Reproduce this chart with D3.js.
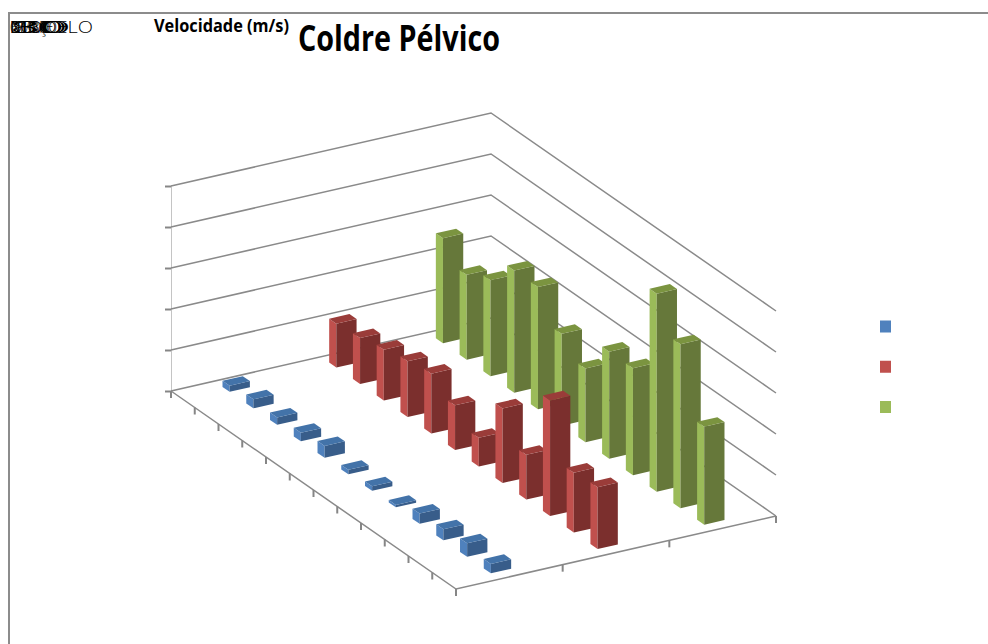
<!DOCTYPE html>
<meta charset="utf-8">
<style>
html, body { margin: 0; background: #fff; }
text { font-family: "Open Sans", sans-serif; fill: #000; }
.grid { stroke: #8a8a8a; stroke-width: 1.5; fill: none; }
.tick-mark { stroke: #868686; stroke-width: 2; }
.yaxis .domain { stroke: #888; stroke-dasharray: 1,1; }
.yaxis line { stroke: #868686; stroke-width: 2; }
</style>
<body>
<script src="https://d3js.org/d3.v7.min.js"></script>
<script>

var categories = ["1", "2", "3", "4", "5", "6", "7", "8", "9", "10", "11", "12"];
var seriesNames = ["S1", "S2", "S3"];
var serie1 = [0.15, 0.22, 0.18, 0.21, 0.29, 0.11, 0.11, 0.06, 0.25, 0.27, 0.33, 0.23];
var serie2 = [1.07, 1.12, 1.24, 1.36, 1.46, 1.09, 0.70, 1.82, 1.09, 2.82, 1.46, 1.51];
var serie3 = [2.56, 2.07, 2.34, 2.98, 2.98, 2.24, 1.80, 2.61, 2.61, 4.83, 4.00, 2.39];
var valueTicks = [0, 1, 2, 3, 4, 5];
var headerLabels = ["MODELO", "NOME", "OMBRO", "BERÇO", "10", "30", "80"];
var xTitle = "Velocidade (m/s)";
var title = "Coldre Pélvico";

var width = 988;
var height = 644;

// oblique floor: u runs along the categories, v along the series
var ox = 171, oy = 391;
var ux = 285, uy = 198;
var vx = 320, vy = -73;

var y = d3.scaleLinear().domain([0, 5]).range([oy, 186]);
var catScale = d3.scaleBand().domain(categories).range([0, 1]).paddingInner(0.7).paddingOuter(0.35);
var serScale = d3.scaleBand().domain(seriesNames).range([0, 1]).paddingInner(0.81).paddingOuter(0.405);

var colors = {
  S1: {light: "#4f81bd", dark: "#385d8a", top: "#4373a9"},
  S2: {light: "#c0504d", dark: "#7b2f2d", top: "#9a3c39"},
  S3: {light: "#9bbb59", dark: "#66783a", top: "#7b9440"}
};

function project(f, g, v) {
  return [ox + ux * f + vx * g, oy + uy * f + vy * g - (y(0) - y(v))];
}

var svg = d3.select("body").append("svg")
    .attr("width", width)
    .attr("height", height)
    .style("display", "block");

// outer frame, only top and left show
svg.append("path")
    .attr("d", d3.line()([[9, height], [9, 13], [width, 13]]))
    .attr("fill", "none")
    .attr("stroke", "#8c8c8c")
    .attr("stroke-width", 2);

// walls and floor
var line = d3.line();
svg.append("g").selectAll("path")
    .data(valueTicks)
    .enter()
    .append("path")
    .attr("class", "grid")
    .attr("d", function(d) {
      return line([project(0, 0, d), project(0, 1, d), project(1, 1, d)]);
    });

svg.append("path")
    .attr("class", "grid")
    .attr("d", line([project(0, 0, 0), project(1, 0, 0), project(1, 1, 0)]));

svg.append("g")
    .attr("class", "yaxis")
    .attr("transform", "translate(" + ox + ",0)")
    .call(d3.axisLeft(y).tickValues(valueTicks).tickFormat("").tickSize(6).tickSizeOuter(0));

// floor ticks
var uTicks = d3.range(categories.length + 1).map(function(i) { return i / categories.length; });
var vTicks = d3.range(seriesNames.length + 1).map(function(i) { return i / seriesNames.length; });

svg.append("g").selectAll("line")
    .data(uTicks)
    .enter()
    .append("line")
    .attr("class", "tick-mark")
    .attr("x1", function(d) { return project(d, 0, 0)[0]; })
    .attr("x2", function(d) { return project(d, 0, 0)[0]; })
    .attr("y1", function(d) { return project(d, 0, 0)[1]; })
    .attr("y2", function(d) { return project(d, 0, 0)[1] + 7; });

svg.append("g").selectAll("line")
    .data(vTicks)
    .enter()
    .append("line")
    .attr("class", "tick-mark")
    .attr("x1", function(d) { return project(1, d, 0)[0]; })
    .attr("x2", function(d) { return project(1, d, 0)[0]; })
    .attr("y1", function(d) { return project(1, d, 0)[1]; })
    .attr("y2", function(d) { return project(1, d, 0)[1] + 7; });

// bars, back series first so the front ones overlap
var allSeries = [
  {name: "S3", values: serie3},
  {name: "S2", values: serie2},
  {name: "S1", values: serie1}
];

allSeries.forEach(function(s) {
  var g0 = serScale(s.name);
  var g1 = g0 + serScale.bandwidth();
  var c = colors[s.name];
  var bars = svg.append("g").selectAll("g")
      .data(s.values)
      .enter()
      .append("g");

  // light side
  bars.append("path")
      .attr("fill", c.light)
      .attr("d", function(d, i) {
        var f0 = catScale(categories[i]);
        var f1 = f0 + catScale.bandwidth();
        return line([project(f0, g0, 0), project(f1, g0, 0), project(f1, g0, d), project(f0, g0, d)]) + "Z";
      });

  // dark side
  bars.append("path")
      .attr("fill", c.dark)
      .attr("d", function(d, i) {
        var f1 = catScale(categories[i]) + catScale.bandwidth();
        return line([project(f1, g0, 0), project(f1, g1, 0), project(f1, g1, d), project(f1, g0, d)]) + "Z";
      });

  // top
  bars.append("path")
      .attr("fill", c.top)
      .attr("d", function(d, i) {
        var f0 = catScale(categories[i]);
        var f1 = f0 + catScale.bandwidth();
        return line([project(f0, g0, d), project(f1, g0, d), project(f1, g1, d), project(f0, g1, d)]) + "Z";
      });
});

// legend, the labels are not visible in the source
var legendY = d3.scalePoint().domain(seriesNames).range([326.5, 407]);
svg.append("g").selectAll("rect")
    .data(seriesNames)
    .enter()
    .append("rect")
    .attr("x", 880)
    .attr("y", function(d) { return legendY(d) - 6; })
    .attr("width", 11)
    .attr("height", 12)
    .attr("fill", function(d) { return colors[d].light; });

// overprinted header labels in the corner
svg.append("g").selectAll("text")
    .data(headerLabels)
    .enter()
    .append("text")
    .attr("x", 10)
    .attr("y", 33)
    .attr("font-size", 16)
    .attr("font-weight", 300)
    .attr("textLength", function(d, i) { return i === 0 ? 83 : 40 + i * 3.5; })
    .attr("lengthAdjust", "spacingAndGlyphs")
    .text(function(d) { return d; });

svg.append("text")
    .attr("x", 154)
    .attr("y", 32)
    .attr("font-size", 18)
    .attr("font-weight", 700)
    .attr("textLength", 135)
    .attr("lengthAdjust", "spacingAndGlyphs")
    .text(xTitle);

svg.append("text")
    .attr("x", 298)
    .attr("y", 51)
    .attr("font-size", 36)
    .attr("font-weight", 700)
    .attr("textLength", 202)
    .attr("lengthAdjust", "spacingAndGlyphs")
    .text(title);

</script>
</body>
